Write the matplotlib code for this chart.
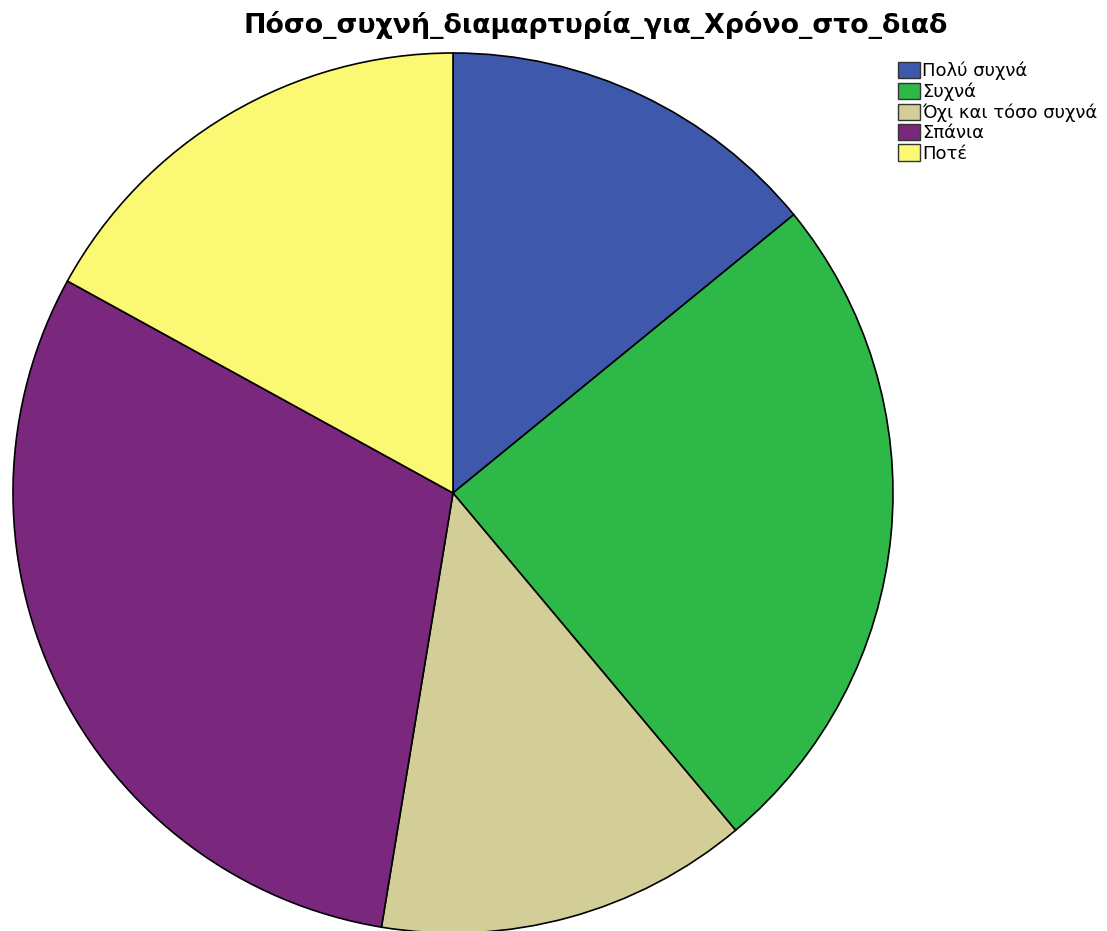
import matplotlib.pyplot as plt
from matplotlib.patches import Patch

plt.rcParams['font.family'] = ['DejaVu Sans']

# categories and shares (percent)
labels = ['Πολύ συχνά', 'Συχνά', 'Όχι και τόσο συχνά', 'Σπάνια', 'Ποτέ']
values = [14.1, 24.8, 13.7, 30.4, 17.0]
colors = ['#3E58AC', '#2EB848', '#D3CE97', '#79287D', '#FBF873']
title = 'Πόσο_συχνή_διαμαρτυρία_για_Χρόνο_στο_διαδ'

W, H = 1107, 931
fig = plt.figure(figsize=(W / 100, H / 100), dpi=100)

# pie axes: centre (453, 493) px, radius 440 px
cx, cy, r = 453, 493, 440
ax = fig.add_axes([(cx - r) / W, (H - cy - r) / H, 2 * r / W, 2 * r / H])
ax.pie(values, colors=colors, startangle=90, counterclock=False,
       wedgeprops=dict(edgecolor='black', linewidth=1.2))
ax.set_xlim(-1, 1)
ax.set_ylim(-1, 1)
ax.axis('off')

fig.text(596 / W, 1 - 33 / H, title, ha='center', va='baseline',
         fontsize=19.3, weight='bold')

handles = [Patch(facecolor=c, edgecolor='#333333', linewidth=1) for c in colors]
fig.legend(handles, labels, loc='upper left',
           bbox_to_anchor=(898 / W, 1 - 62 / H), frameon=False,
           fontsize=13, handlelength=1.2, handleheight=1.0,
           handletextpad=0.15, labelspacing=0.12, borderpad=0,
           borderaxespad=0)

fig.savefig('out.png', dpi=100)
